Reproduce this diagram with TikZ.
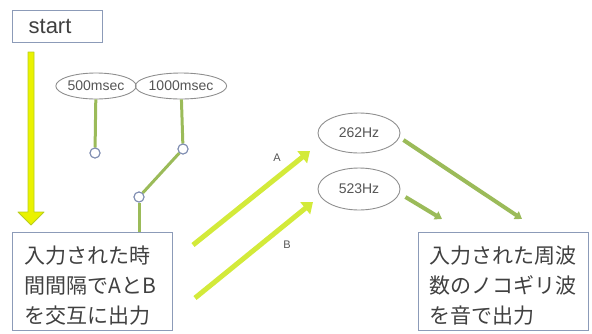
\documentclass[tikz,border=0pt]{standalone}
\usepackage{fontspec}
\setmainfont{Liberation Sans}
\newfontfamily\jpfont{Noto Sans CJK JP}
\usetikzlibrary{arrows.meta,calc,shapes.geometric}
\definecolor{boxline}{HTML}{8C9BB8}
\definecolor{ellline}{HTML}{8F8F8F}
\definecolor{olive}{HTML}{9BBB59}
\definecolor{yelfill}{HTML}{EAF200}
\definecolor{yelline}{HTML}{B9CE1E}
\definecolor{abfill}{HTML}{D3EA3A}
\definecolor{txt}{HTML}{404040}
\definecolor{smalltxt}{HTML}{555555}
\definecolor{dotline}{HTML}{7D8BB0}
\tikzset{
  boxnode/.style={draw=boxline, line width=1.3pt, rectangle, anchor=north west, align=left, text=txt},
  ellnode/.style={draw=ellline, line width=0.9pt, ellipse, inner sep=0pt, text=smalltxt, font=\fontsize{14}{15}\selectfont},
  dotnode/.style={draw=dotline, line width=1pt, fill=white, circle, minimum size=10pt, inner sep=0pt},
  oliveline/.style={draw=olive, line width=3pt},
  olivearrow/.style={draw=olive, line width=4pt, -{Triangle[length=7pt,width=9pt]}},
  abarrow/.style={draw=abfill, line width=5pt, -{Triangle[length=10pt,width=15pt]}},
  lbl/.style={text=smalltxt, font=\fontsize{11}{12}\selectfont}
}
\begin{document}
\begin{tikzpicture}[x=1pt,y=-1pt]
\useasboundingbox (0,0) rectangle (592,333);
% start box
\node[boxnode, minimum height=32pt, text width=58pt, inner xsep=16pt, inner ysep=0pt, font=\fontsize{22}{24}\selectfont] (start) at (12,10) {start};
% left box
\node[boxnode, minimum height=98pt, text width=136pt, inner xsep=12pt, inner ysep=4pt, font=\jpfont\fontsize{21}{30}\selectfont] (lbox) at (12,232) {\rule{0pt}{26pt}入力された時\\間間隔でAとB\\を交互に出力};
% right box
\node[boxnode, minimum height=98pt, text width=148pt, inner xsep=11pt, inner ysep=4pt, font=\jpfont\fontsize{21}{30}\selectfont] (rbox) at (418,232) {\rule{0pt}{26pt}入力された周波\\数のノコギリ波\\を音で出力};
% ellipses
\node[ellnode, minimum width=78pt, minimum height=26pt] (e500) at (96,86) {500msec};
\node[ellnode, minimum width=84pt, minimum height=26pt] (e1000) at (181,86) {1000msec};
\node[ellnode, minimum width=82pt, minimum height=40pt] (hz262) at (359,133) {262Hz};
\node[ellnode, minimum width=82pt, minimum height=42pt] (hz523) at (359,189) {523Hz};
% dots
\node[dotnode] (c1) at (95,153) {};
\node[dotnode] (c2) at (183,149) {};
\node[dotnode] (c3) at (139,197) {};
% olive connectors
\draw[oliveline] (e500) -- (c1);
\draw[oliveline] (e1000) -- (c2);
\draw[oliveline] (c2) -- (c3);
\draw[oliveline] (c3) -- (c3 |- lbox.north);
\node[dotnode] at (c2) {};
\node[dotnode] at (c3) {};
\node[dotnode] at (c1) {};
% start arrow
\coordinate (sa) at (31,52);
\coordinate (sb) at (31,225);
\filldraw[fill=yelfill, draw=yelline, line width=0.9pt, line join=round]
  ($(sa)+(-3,0)$) -- ($(sb)+(-3,-13)$) -- ($(sb)+(-13,-13)$) -- (sb)
  -- ($(sb)+(13,-13)$) -- ($(sb)+(3,-13)$) -- ($(sa)+(3,0)$) -- cycle;
% A / B arrows
\coordinate (a1) at (193,245);
\coordinate (a2) at (310,151);
\coordinate (b1) at (195,298);
\coordinate (b2) at (313,202);
\draw[abarrow] (a1) -- (a2);
\draw[abarrow] (b1) -- (b2);
\node[lbl] (la) at (277,158) {A};
\node[lbl] (lb) at (287,245) {B};
% olive arrows to right box
\coordinate (h1) at (522,219);
\coordinate (h2) at (442,219);
\draw[olivearrow] ([shift={(3,7)}]hz262.east) -- (h1);
\draw[olivearrow] ([shift={(5,8)}]hz523.east) -- (h2);
\end{tikzpicture}
\end{document}
